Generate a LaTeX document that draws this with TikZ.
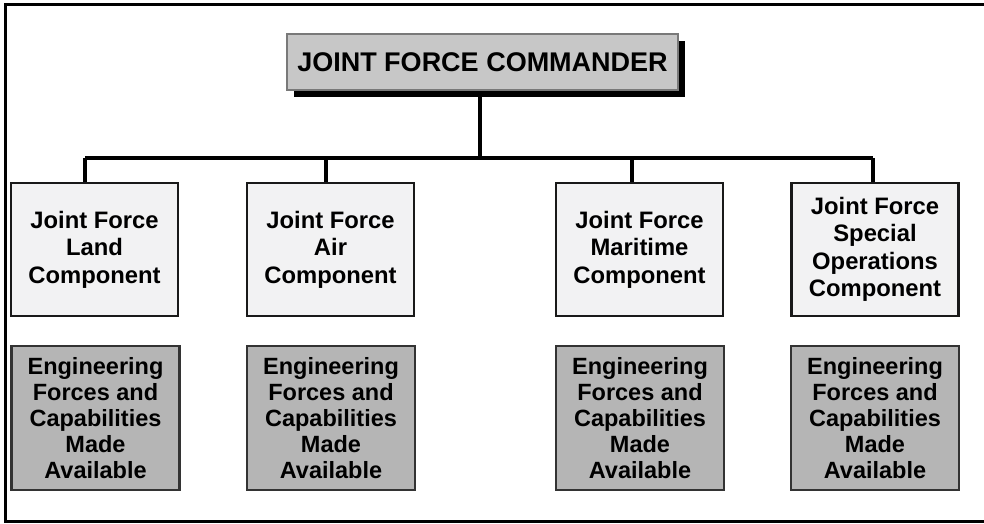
\documentclass[tikz,border=0pt]{standalone}
\usepackage{fontspec}
\setmainfont{Liberation Sans}
\begin{document}
\begin{tikzpicture}[x=1pt,y=-1pt,
  link/.style={line width=3.2pt, black},
  topbox/.style={draw=gray!95!black, line width=2.4pt, fill=black!22, minimum width=391pt, minimum height=56pt,
    inner sep=0pt, font=\fontsize{27}{30}\selectfont\bfseries},
  shadowbox/.style={fill=black, minimum width=391pt, minimum height=56pt, inner sep=0pt},
  compbox/.style={draw=black!90, line width=2.6pt, fill=blue!3!black!5, minimum width=167pt, minimum height=133pt,
    inner sep=0pt, align=center, font=\fontsize{23.8}{27.5}\selectfont\bfseries},
  engbox/.style={draw=black!80, line width=2.6pt, fill=black!29, minimum width=168pt, minimum height=144pt,
    inner sep=0pt, align=center, font=\fontsize{23.5}{26}\selectfont\bfseries}]
  \useasboundingbox (0,0) rectangle (984,523);

  % outer frame (open on the right)
  \draw[line width=3pt] (984,4) -- (5,4) -- (5,521) -- (984,521);

  % commander box with drop shadow
  \node[shadowbox] (cmdshadow) at (489.5,69) {};
  \node[topbox] (cmd) at (482.5,62) {JOINT FORCE COMMANDER};

  % component boxes
  \node[compbox] (land) at (94.5,249.5) {Joint Force\\Land\\Component};
  \node[compbox] (air)  at (330.5,249.5) {Joint Force\\Air\\Component};
  \node[compbox] (mar)  at (639.5,249.5) {Joint Force\\Maritime\\Component};
  \node[compbox] (sof)  at (875,249.5) {Joint Force\\Special\\Operations\\Component};

  % engineering boxes
  \node[engbox] (england) at (95.5,418) {Engineering\\Forces and\\Capabilities\\Made\\Available};
  \node[engbox] (engair)  at (331,418) {Engineering\\Forces and\\Capabilities\\Made\\Available};
  \node[engbox] (engmar)  at (640,418) {Engineering\\Forces and\\Capabilities\\Made\\Available};
  \node[engbox] (engsof)  at (875,418) {Engineering\\Forces and\\Capabilities\\Made\\Available};

  % command lines
  \coordinate (bus) at (480,158);
  \draw[link] (cmdshadow.south -| bus) -- (bus);
  \draw[link] (85,158) -- (873,158);
  \draw[link] (85,158) -- (land.north -| 85,0);
  \draw[link] (326,158) -- (air.north -| 326,0);
  \draw[link] (632,158) -- (mar.north -| 632,0);
  \draw[link] (873,158) -- (sof.north -| 873,0);
\end{tikzpicture}
\end{document}
